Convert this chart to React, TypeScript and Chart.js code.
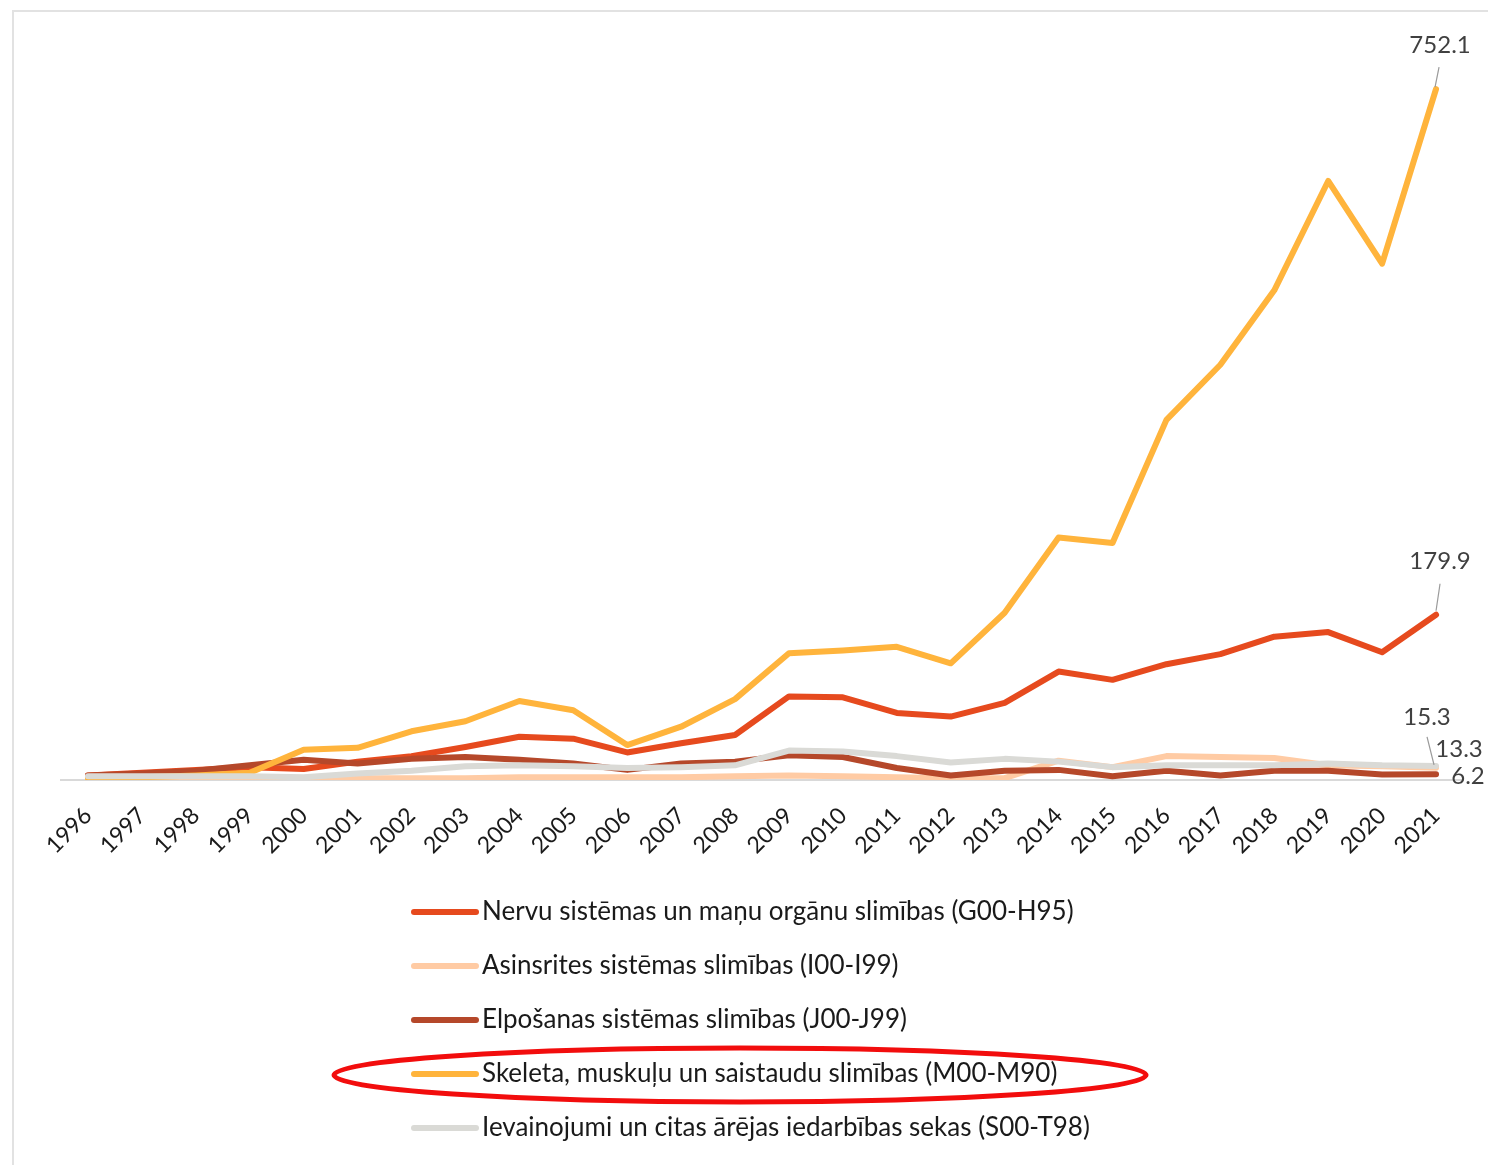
import React, { useEffect, useRef } from "react";
import { Chart, registerables } from "chart.js";

Chart.register(...registerables);

const years = ["1996","1997","1998","1999","2000","2001","2002","2003","2004","2005","2006","2007","2008","2009","2010","2011","2012","2013","2014","2015","2016","2017","2018","2019","2020","2021"];

const nervu = [5, 8, 11, 14, 12, 20, 26, 36, 47, 45, 30, 40, 49, 91, 90, 73, 69, 84, 118, 109, 126, 137, 156, 161, 139, 179.9];
const asinsrites = [1, 1.5, 2, 2, 2, 2, 2, 2, 3, 3, 3, 3, 4, 5, 4, 3, 2, 2, 21, 14, 26, 25, 24, 16, 15, 13.3];
const elposanas = [5, 7, 10, 16, 22, 18, 23, 25, 22, 18, 11, 18, 20, 27, 25, 13, 5, 10, 11, 4, 10, 5, 10, 10, 6, 6.2];
const skeleta = [2, 3, 5, 8, 33, 35, 53, 64, 86, 76, 38, 58, 88, 138, 141, 145, 127, 182, 264, 258, 392, 452, 533, 652, 562, 752.1];
const ievainojumi = [4, 4, 4, 4, 3, 7, 10, 15, 16, 15, 13, 14, 16, 32, 31, 26, 19, 23, 20, 14, 16, 16, 16, 18, 16, 15.3];

const seriesNames = [
  "Nervu sistēmas un maņu orgānu slimības (G00-H95)",
  "Asinsrites sistēmas slimības (I00-I99)",
  "Elpošanas sistēmas slimības (J00-J99)",
  "Skeleta, muskuļu un saistaudu slimības (M00-M90)",
  "Ievainojumi un citas ārējas iedarbības sekas (S00-T98)",
];
const seriesColors = ["#E64A1E", "#FFCBA4", "#B5482A", "#FFB43C", "#DADAD6"];
const endLabels = ["179.9", "13.3", "6.2", "752.1", "15.3"];

export default function App() {
  const ref = useRef<HTMLCanvasElement | null>(null);

  useEffect(() => {
    document.body.style.margin = "0";
    const canvas = ref.current;
    if (!canvas) return;
    const allData = [nervu, asinsrites, elposanas, skeleta, ievainojumi];

    const decor = {
      id: "decor",
      beforeDraw(chart: any) {
        const ctx = chart.ctx;
        ctx.save();
        ctx.strokeStyle = "#E2E2E2";
        ctx.lineWidth = 2;
        ctx.beginPath();
        ctx.moveTo(13, 1165);
        ctx.lineTo(13, 11);
        ctx.lineTo(1488, 11);
        ctx.stroke();
        ctx.restore();
      },
      afterDraw(chart: any) {
        const ctx = chart.ctx;
        const xs = chart.scales.x;
        const ys = chart.scales.y;
        const last = years.length - 1;
        ctx.save();
        ctx.font = "24px Lato";
        ctx.fillStyle = "#404040";
        ctx.textAlign = "center";
        ctx.textBaseline = "middle";
        ctx.strokeStyle = "#9A9A9A";
        ctx.lineWidth = 1.2;
        const px = xs.getPixelForValue(last);
        const cfg: any = {
          "752.1": { dx: 4, dy: -44, lead: [[3, -22], [-1, -2]] },
          "179.9": { dx: 4, dy: -53, lead: [[4, -31], [0, -4]] },
          "15.3": { dx: -9, dy: -49, lead: [[-9, -29], [-2, -1]] },
          "13.3": { dx: 23, dy: -19, lead: null },
          "6.2": { dx: 32, dy: 2, lead: null },
        };
        allData.forEach((arr, i) => {
          const lab = endLabels[i];
          const c = cfg[lab];
          const py = ys.getPixelForValue(arr[last]);
          ctx.fillText(lab, px + c.dx, py + c.dy);
          if (c.lead) {
            ctx.beginPath();
            ctx.moveTo(px + c.lead[0][0], py + c.lead[0][1]);
            ctx.lineTo(px + c.lead[1][0], py + c.lead[1][1]);
            ctx.stroke();
          }
        });
        // legend
        ctx.textAlign = "left";
        ctx.textBaseline = "middle";
        ctx.font = "26px Lato";
        seriesNames.forEach((name, i) => {
          const y = 912 + i * 54;
          ctx.strokeStyle = seriesColors[i];
          ctx.lineWidth = 6;
          ctx.lineCap = "round";
          ctx.beginPath();
          ctx.moveTo(414, y);
          ctx.lineTo(476, y);
          ctx.stroke();
          ctx.fillStyle = "#1A1A1A";
          ctx.fillText(name, 482, y);
        });
        // red ellipse annotation
        ctx.strokeStyle = "#F20D0D";
        ctx.lineWidth = 5;
        ctx.beginPath();
        ctx.ellipse(740, 1075, 406, 27, 0, 0, Math.PI * 2);
        ctx.stroke();
        ctx.restore();
      },
    };

    const chart = new Chart(canvas, {
      type: "line",
      data: {
        labels: years,
        datasets: allData.map((d, i) => ({
          label: seriesNames[i],
          data: d,
          borderColor: seriesColors[i],
          backgroundColor: seriesColors[i],
          borderWidth: 6,
          pointRadius: 0,
          tension: 0,
          order: 5 - i,
          borderCapStyle: "round" as const,
          borderJoinStyle: "round" as const,
        })),
      },
      options: {
        animation: false,
        responsive: false,
        maintainAspectRatio: false,
        layout: { padding: { left: 61, right: 25, top: 45, bottom: 0 } },
        plugins: { legend: { display: false }, tooltip: { enabled: false } },
        scales: {
          x: {
            offset: true,
            grid: { display: false, drawTicks: false },
            border: { display: true, color: "#D9D9D9", width: 2 },
            ticks: {
              minRotation: 45,
              maxRotation: 45,
              autoSkip: false,
              color: "#1A1A1A",
              font: { family: "Lato", size: 23 },
              padding: 22,
            },
            afterFit: (scale: any) => {
              scale.height = 385;
            },
          },
          y: {
            display: false,
            min: 0,
            max: 800,
          },
        },
      },
      plugins: [decor],
    });
    return () => chart.destroy();
  }, []);

  return (
    <div style={{ width: 1488, height: 1165 }}>
      <canvas ref={ref} width={1488} height={1165} style={{ width: 1488, height: 1165, display: "block" }} />
    </div>
  );
}
